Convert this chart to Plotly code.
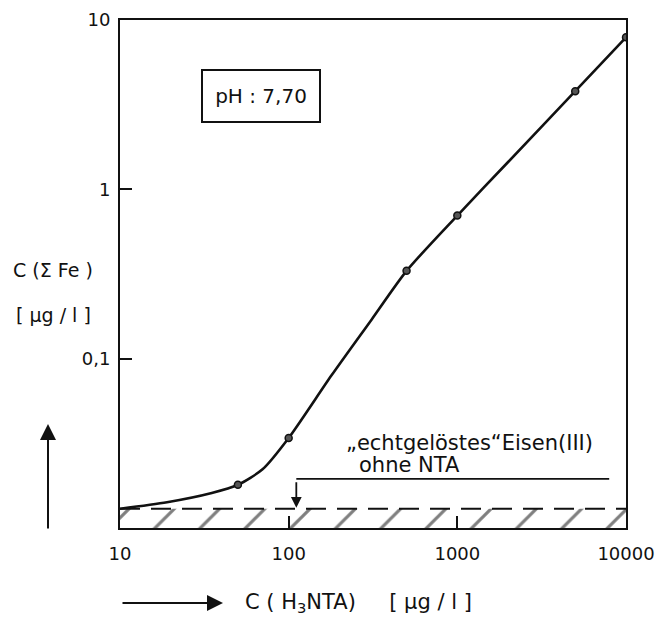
import math
import plotly.graph_objects as go

# measured points: C(H3NTA) [µg/l] vs C(ΣFe) [µg/l], pH 7.70
x_meas = [50, 100, 500, 1000, 5000, 10000]
y_meas = [0.018, 0.034, 0.33, 0.70, 3.8, 7.9]

# hand-drawn fit curve through the measurements
x_fit = [10, 19, 35, 50, 70, 100, 180, 310, 500, 1000, 2000, 5000, 10000]
y_fit = [0.013, 0.0142, 0.0161, 0.018, 0.0222, 0.034, 0.080, 0.17, 0.33, 0.70, 1.45, 3.8, 7.9]

# level of truly dissolved iron(III) without NTA (hatched band)
band_x = [10, 10000]
band_low = 0.01
band_top = 0.013

# pointer line for the band label
pointer_x = [111, 7950]
pointer_y = 0.0195

x_tickvals = [10, 100, 1000, 10000]
x_ticktext = ["10", "100", "1000", "10000"]
y_tickvals = [0.1, 1, 10]
y_ticktext = ["0,1", "1", "10"]

W, H = 660, 618
ML, MR, MT, MB = 120, 34, 20, 90
FONT = "DejaVu Sans"
INK = "#111111"


def px(xp):
    return (xp - ML) / (W - ML - MR)


def py(yp):
    return (H - MB - yp) / (H - MT - MB)


fig = go.Figure()

# hatched band
fig.add_trace(go.Scatter(
    x=[band_x[0], band_x[1], band_x[1], band_x[0], band_x[0]],
    y=[band_low, band_low, band_top, band_top, band_low],
    mode="none", fill="toself", fillcolor="rgba(0,0,0,0)",
    fillpattern=dict(shape="/", size=32, solidity=0.1,
                     fgcolor="#000000", bgcolor="white"),
    hoverinfo="skip", showlegend=False,
))
fig.add_trace(go.Scatter(
    x=band_x, y=[band_top, band_top], mode="lines",
    line=dict(color=INK, width=2, dash="20px,11px"),
    hoverinfo="skip", showlegend=False,
))

# pointer line
fig.add_trace(go.Scatter(
    x=pointer_x, y=[pointer_y, pointer_y], mode="lines",
    line=dict(color=INK, width=1.8),
    hoverinfo="skip", showlegend=False,
))

# fit curve
fig.add_trace(go.Scatter(
    x=x_fit, y=y_fit, mode="lines",
    line=dict(color=INK, width=2.6, shape="spline", smoothing=0.7),
    showlegend=False,
))

# measurements
fig.add_trace(go.Scatter(
    x=x_meas, y=y_meas, mode="markers",
    marker=dict(size=7, color="#555555", line=dict(color=INK, width=1.5)),
    showlegend=False,
))

axis_common = dict(
    type="log", showline=True, mirror=True, linecolor=INK, linewidth=2,
    ticks="inside", ticklen=12, tickwidth=2, tickcolor=INK,
    showgrid=False, zeroline=False, automargin=False,
    tickfont=dict(family=FONT, size=18, color=INK),
)

fig.update_xaxes(range=[1, 4], tickvals=x_tickvals, ticktext=x_ticktext,
                 ticklabelstandoff=8, **axis_common)
fig.update_yaxes(range=[-2, 1], tickvals=y_tickvals, ticktext=y_ticktext,
                 ticklabelstandoff=4, **axis_common)


def label(xp, yp, text, size=20, xanchor="center"):
    return dict(xref="paper", yref="paper", x=px(xp), y=py(yp),
                xanchor=xanchor, yanchor="middle", text=text,
                showarrow=False, font=dict(family=FONT, size=size, color=INK))


def arrow(xp, yp, ax, ay, size=1.6, width=2):
    return dict(xref="paper", yref="paper", x=px(xp), y=py(yp),
                ax=ax, ay=ay, text="", showarrow=True, arrowhead=2,
                arrowsize=size, arrowwidth=width, arrowcolor=INK, standoff=0)


pH_box = label(261, 96, "pH : 7,70", size=20)
pH_box.update(width=114, height=48, bordercolor=INK, borderwidth=2,
              bgcolor="white")

annotations = [
    pH_box,
    # band label
    label(344, 443, "\u201eechtgelöstes\u201cEisen(III)", size=21, xanchor="left"),
    label(357, 465, "ohne NTA", size=21, xanchor="left"),
    # arrow from pointer down to the band
    dict(xref="x", yref="y", x=math.log10(pointer_x[0]),
         y=math.log10(band_top) + 0.005, ax=0, ay=-27, text="",
         showarrow=True, arrowhead=2, arrowsize=1.2, arrowwidth=1.8,
         arrowcolor=INK, standoff=0),
    # y axis title
    label(53, 270, "C (\u03a3 Fe )", size=19),
    label(53, 315, "[ µg / l ]", size=19),
    # vertical arrow on the left
    arrow(48, 424, 0, 106),
    # horizontal arrow + x axis title
    arrow(223, 603, -102, 0),
    label(243, 603, "C ( H<sub>3</sub>NTA)     [ µg / l ]", size=21,
          xanchor="left"),
]

fig.update_layout(
    width=W, height=H,
    margin=dict(l=ML, r=MR, t=MT, b=MB),
    paper_bgcolor="white", plot_bgcolor="white",
    annotations=annotations,
    showlegend=False,
)

fig.write_html("out.html")
